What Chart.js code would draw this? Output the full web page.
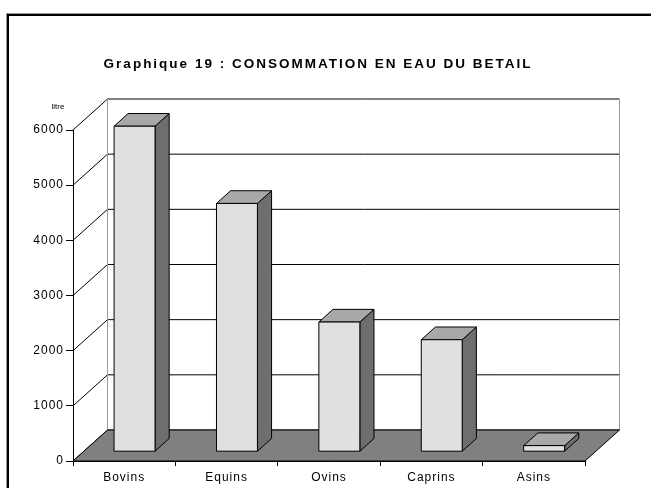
<!DOCTYPE html>
<html>
<head>
<meta charset="utf-8">
<script src="https://cdn.jsdelivr.net/npm/chart.js@4"></script>
<style>
  body { margin: 0; background: #fff; }
</style>
</head>
<body>
<canvas id="waterChart" width="651" height="488"></canvas>
<script>
const categories = ['Bovins', 'Equins', 'Ovins', 'Caprins', 'Asins'];
const consumption = [5900, 4500, 2350, 2030, 110];
const yMax = 6000;
const yStep = 1000;
const chartTitle = 'Graphique 19 : CONSOMMATION EN EAU DU BETAIL';
const unitLabel = 'litre';

// fake 3d depth of the plot box, and where the bars sit inside it
const depthX = 34.5, depthY = 31;
const barFront = 0.3, barDepth = 0.41;
const font = "'Liberation Sans', Arial, sans-serif";

function poly(ctx, pts, fill) {
    ctx.beginPath();
    ctx.moveTo(pts[0][0], pts[0][1]);
    for (let i = 1; i < pts.length; i++) ctx.lineTo(pts[i][0], pts[i][1]);
    ctx.closePath();
    ctx.fillStyle = fill;
    ctx.fill();
    ctx.stroke();
}

const box3d = {
    id: 'box3d',
    beforeDraw(chart) {
        const ctx = chart.ctx;
        const area = chart.chartArea;
        const ys = chart.scales.y;
        ctx.save();

        // outer frame
        ctx.strokeStyle = '#999';
        ctx.lineWidth = 1;
        ctx.strokeRect(6.5, 13.5, 700, 500);
        ctx.strokeStyle = '#000';
        ctx.lineWidth = 2;
        ctx.strokeRect(8, 15, 700, 500);

        // title
        ctx.fillStyle = '#000';
        ctx.font = 'bold 13.5px ' + font;
        ctx.letterSpacing = '2px';
        ctx.textAlign = 'center';
        ctx.textBaseline = 'middle';
        ctx.fillText(chartTitle, 318, 64);

        ctx.letterSpacing = '0px';
        ctx.font = '8px ' + font;
        ctx.fillText(unitLabel, 58, 107);

        // grid lines on side and back wall
        ctx.lineWidth = 1;
        ctx.strokeStyle = '#000';
        ys.ticks.forEach(t => {
            const y = ys.getPixelForValue(t.value);
            ctx.beginPath();
            ctx.moveTo(area.left, y);
            ctx.lineTo(area.left + depthX, y - depthY);
            ctx.lineTo(area.right + depthX, y - depthY);
            ctx.stroke();
        });

        // back wall edges
        const yTop = ys.getPixelForValue(yMax) - depthY;
        const yBot = ys.getPixelForValue(0) - depthY;
        ctx.strokeStyle = '#999';
        ctx.beginPath();
        ctx.moveTo(area.left + depthX, yTop);
        ctx.lineTo(area.left + depthX, yBot);
        ctx.moveTo(area.right + depthX, yTop);
        ctx.lineTo(area.right + depthX, yBot);
        ctx.stroke();

        // floor
        const y0 = ys.getPixelForValue(0);
        ctx.strokeStyle = '#000';
        poly(ctx, [[area.left, y0], [area.right, y0],
                   [area.right + depthX, y0 - depthY], [area.left + depthX, y0 - depthY]], '#808080');

        ctx.restore();
        ctx.letterSpacing = '1px';
    },
    afterDatasetsDraw(chart) {
        const ctx = chart.ctx;
        const meta = chart.getDatasetMeta(0);
        ctx.save();
        ctx.lineWidth = 1;
        ctx.strokeStyle = '#000';
        const ox = barFront * depthX, oy = barFront * depthY;
        const bx = barDepth * depthX, by = barDepth * depthY;
        meta.data.forEach(bar => {
            const left = bar.x - bar.width / 2 + ox;
            const right = left + bar.width;
            const top = bar.y - oy;
            const bottom = bar.base - oy;
            poly(ctx, [[right, bottom], [right + bx, bottom - by], [right + bx, top - by], [right, top]], '#6e6e6e');
            poly(ctx, [[left, top], [right, top], [right + bx, top - by], [left + bx, top - by]], '#a8a8a8');
            poly(ctx, [[left, top], [right, top], [right, bottom], [left, bottom]], '#e0e0e0');
        });
        ctx.restore();
    },
    afterDraw(chart) {
        chart.ctx.letterSpacing = '0px';
    }
};

document.addEventListener("DOMContentLoaded", () => {
    new Chart(document.querySelector('#waterChart'), {
        type: 'bar',
        data: {
            labels: categories,
            datasets: [{
                label: unitLabel,
                data: consumption,
                backgroundColor: 'rgba(0,0,0,0)',
                borderWidth: 0,
                categoryPercentage: 0.8,
                barPercentage: 0.5
            }]
        },
        options: {
            responsive: false,
            animation: false,
            layout: { padding: { top: 130, right: 66, bottom: 0, left: 0 } },
            plugins: {
                legend: { display: false },
                tooltip: { enabled: false },
                title: { display: false }
            },
            scales: {
                x: {
                    grid: { offset: true, drawOnChartArea: false, tickLength: 5, color: '#000' },
                    border: { color: '#000' },
                    ticks: { color: '#000', padding: 4, maxRotation: 0, font: { family: font, size: 12 } },
                    afterFit(scale) { scale.height = 27; }
                },
                y: {
                    min: 0,
                    max: yMax,
                    grid: { drawOnChartArea: false, tickLength: 7, color: '#000' },
                    border: { color: '#000' },
                    ticks: {
                        stepSize: yStep,
                        color: '#000',
                        padding: 2,
                        font: { family: font, size: 12 },
                        callback: v => String(v)
                    },
                    afterFit(scale) { scale.width = 73; }
                }
            }
        },
        plugins: [box3d]
    });
});
</script>
</body>
</html>
